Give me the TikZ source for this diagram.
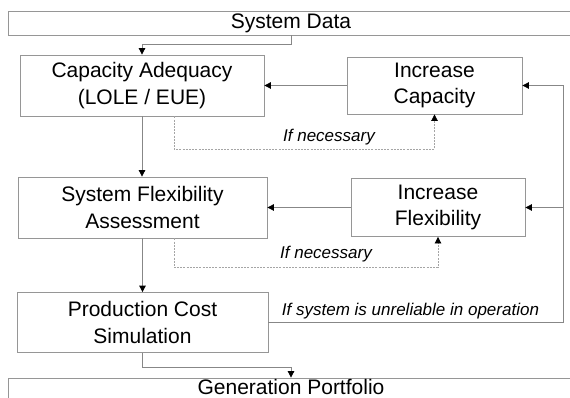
\documentclass[tikz,border=0pt]{standalone}
\usepackage{fontspec}
\setmainfont{Liberation Sans}
\usetikzlibrary{arrows.meta}
\definecolor{boxgray}{RGB}{150,150,150}
\definecolor{linegray}{RGB}{135,135,135}
\definecolor{dashgray}{RGB}{165,165,165}
\tikzset{
  box/.style={draw=boxgray, line width=0.8pt, inner sep=0pt, align=center,
    font=\fontsize{21}{26.5}\selectfont},
  conn/.style={draw=linegray, line width=0.8pt},
  tip/.style={-{Triangle[length=6.5pt,width=6.5pt,black]}},
  arr/.style={conn, tip},
  dsh/.style={draw=dashgray, line width=0.7pt, dash pattern=on 2pt off 1.2pt, tip},
  lbl/.style={font=\fontsize{17}{20}\selectfont\itshape, inner sep=0pt}
}
\begin{document}
\begin{tikzpicture}[x=1pt,y=-1pt]
\useasboundingbox (0,0) rectangle (570,398);
\clip (0,0) rectangle (570,398);
\fill[white] (0,0) rectangle (570,398);
\node[box, minimum width=566pt, minimum height=24pt] (sd) at (291,23) {System Data};
\node[box, minimum width=244pt, minimum height=61pt] (ca) at (142,85.5) {Capacity Adequacy\\(LOLE / EUE)};
\node[box, minimum width=175pt, minimum height=57pt] (ic) at (434.5,85.5) {Increase\\Capacity};
\node[box, minimum width=249pt, minimum height=61pt] (sf) at (142.5,207.5) {System Flexibility\\Assessment};
\node[box, minimum width=174pt, minimum height=58pt] (if) at (438,207.5) {Increase\\Flexibility};
\node[box, minimum width=251pt, minimum height=60pt] (pcs) at (142.5,322.5) {Production Cost\\Simulation};
\node[box, minimum width=566pt, minimum height=40pt] (gp) at (291,398) {};
\node[font=\fontsize{21}{26.5}\selectfont, inner sep=0pt] (gpt) at (291,387) {Generation Portfolio};
\coordinate (rx) at (563,0);

\draw[arr] (sd.south) -- ++(0,9) -| (ca.north);
\draw[arr] (ic.west) -- (ca.east |- ic.west);
\draw[dsh] ([xshift=32pt]ca.south) -- ++(0,33) -| (ic.south);
\node[lbl] (n1) at (329,137) {If necessary};
\draw[arr] (ca.south) -- (ca.south |- sf.north);
\draw[arr] (if.west) -- (sf.east |- if.west);
\draw[dsh] ([xshift=31.5pt]sf.south) -- ++(0,29) -| (if.south);
\node[lbl] (n2) at (326,254) {If necessary};
\draw[arr] (sf.south) -- (sf.south |- pcs.north);
\draw[arr] (pcs.east) -- (pcs.east -| rx) -- (rx |- ic.east) -- (ic.east);
\draw[arr] (rx |- if.east) -- (if.east);
\node[lbl] (n3) at (410.5,311) {If system is unreliable in operation};
\draw[arr] (pcs.south) -- ++(0,14) -| (gp.north);
\end{tikzpicture}
\end{document}
